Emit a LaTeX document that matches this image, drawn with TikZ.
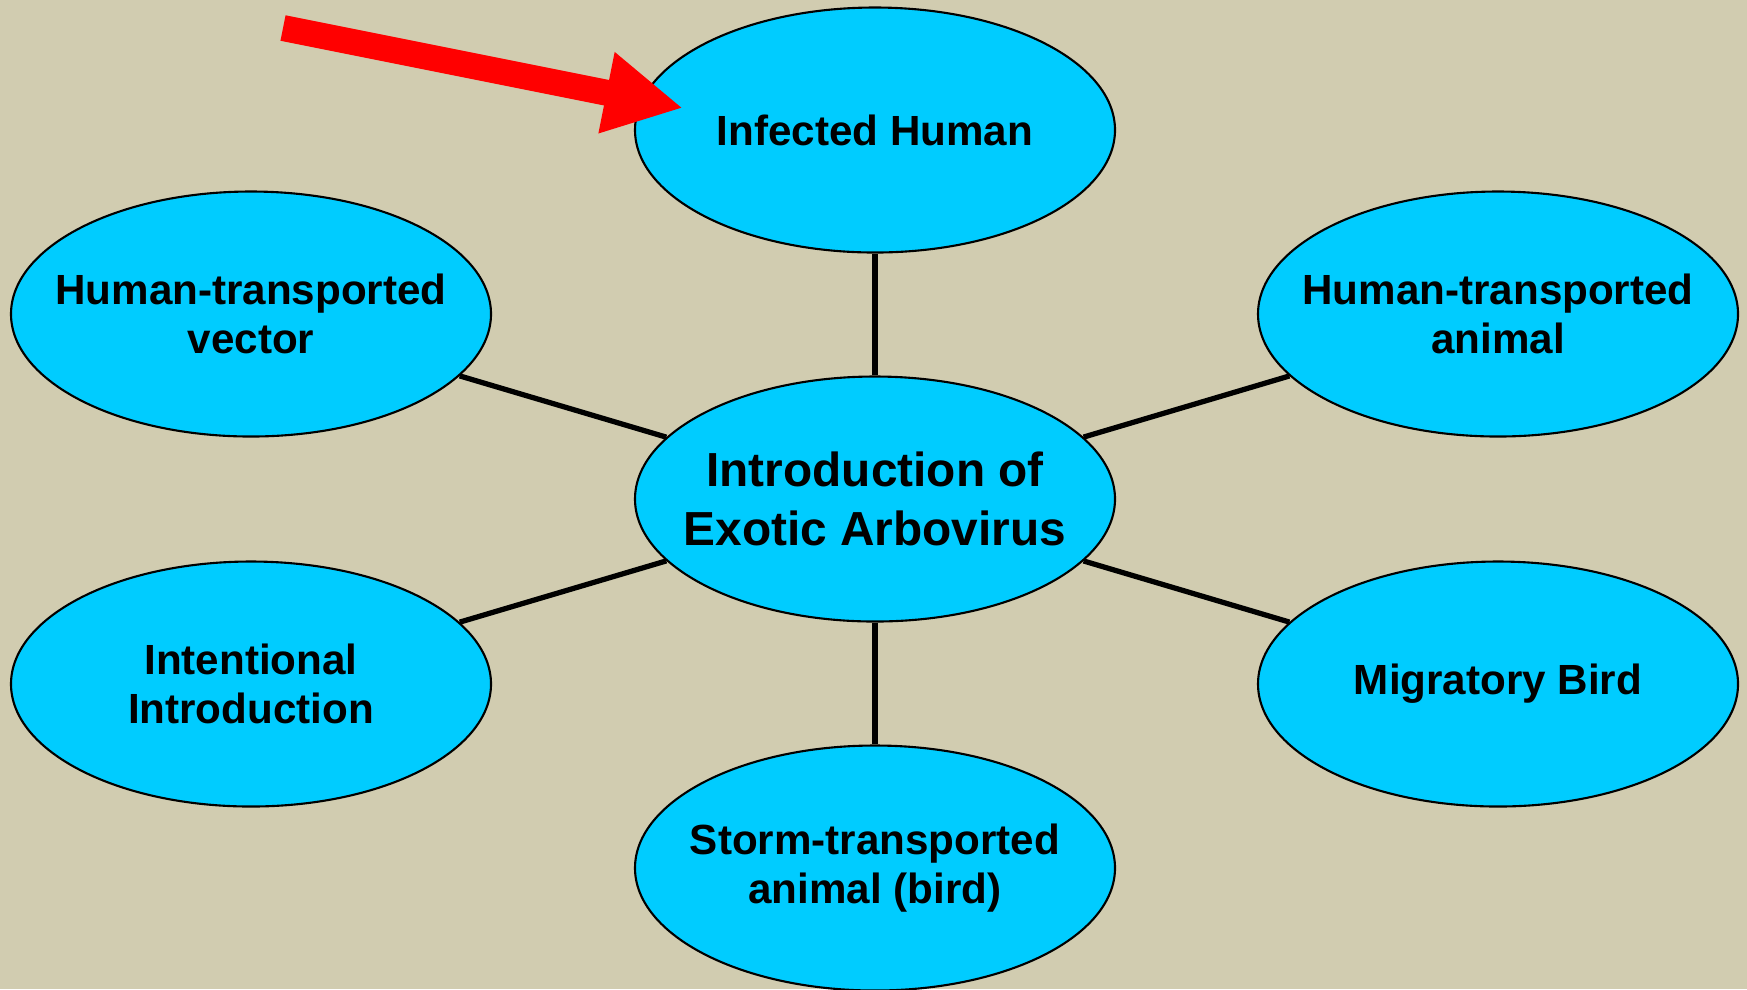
\documentclass[tikz,border=0pt]{standalone}
\usepackage{fontspec}
\setmainfont{Liberation Sans}
\usetikzlibrary{shapes.geometric,arrows.meta}
\definecolor{bgtan}{RGB}{209,204,176}
\definecolor{bubble}{RGB}{0,204,255}

\begin{document}
\begin{tikzpicture}
  \tikzstyle{cause} = [ellipse, draw, fill=bubble, line width=0.6pt, minimum width=4.8cm, minimum height=2.45cm, inner xsep=-0.5cm, inner ysep=-0.3cm, align=center, font=\fontsize{12}{14}\selectfont\bfseries]
  \tikzstyle{link} = [line width=1.5pt]
  \tikzstyle{pointer} = [red, line width=0.26cm, -{Triangle[length=0.78cm,width=0.77cm]}]

  % Background
  \fill [bgtan] (0,0) rectangle (17.47,-9.89);
  \useasboundingbox (0,0) rectangle (17.47,-9.89);

  % Centre
  \node [cause, font=\fontsize{13.6}{16.6}\selectfont\bfseries] (intro) at (8.75,-4.99) {Introduction of\\Exotic Arbovirus};

  % Routes
  \node [cause] (human) at (8.75,-1.30) {Infected Human};
  \node [cause] (vector) at (2.51,-3.14) {Human-transported\\vector};
  \node [cause] (animal) at (14.98,-3.14) {Human-transported\\animal};
  \node [cause] (intent) at (2.51,-6.84) {Intentional\\Introduction};
  \node [cause] (bird) at (14.98,-6.84) {Migratory Bird};
  \node [cause] (storm) at (8.75,-8.68) {Storm-transported\\animal (bird)};

  % Links
  \draw [link] (intro) -- (human);
  \draw [link] (intro) -- (vector);
  \draw [link] (intro) -- (animal);
  \draw [link] (intro) -- (intent);
  \draw [link] (intro) -- (bird);
  \draw [link] (intro) -- (storm);

  % Red pointer
  \coordinate (tail) at (2.83,-0.28);
  \coordinate (tip) at (6.83,-1.08);
  \draw [pointer] (tail) -- (tip);

\end{tikzpicture}
\end{document}
